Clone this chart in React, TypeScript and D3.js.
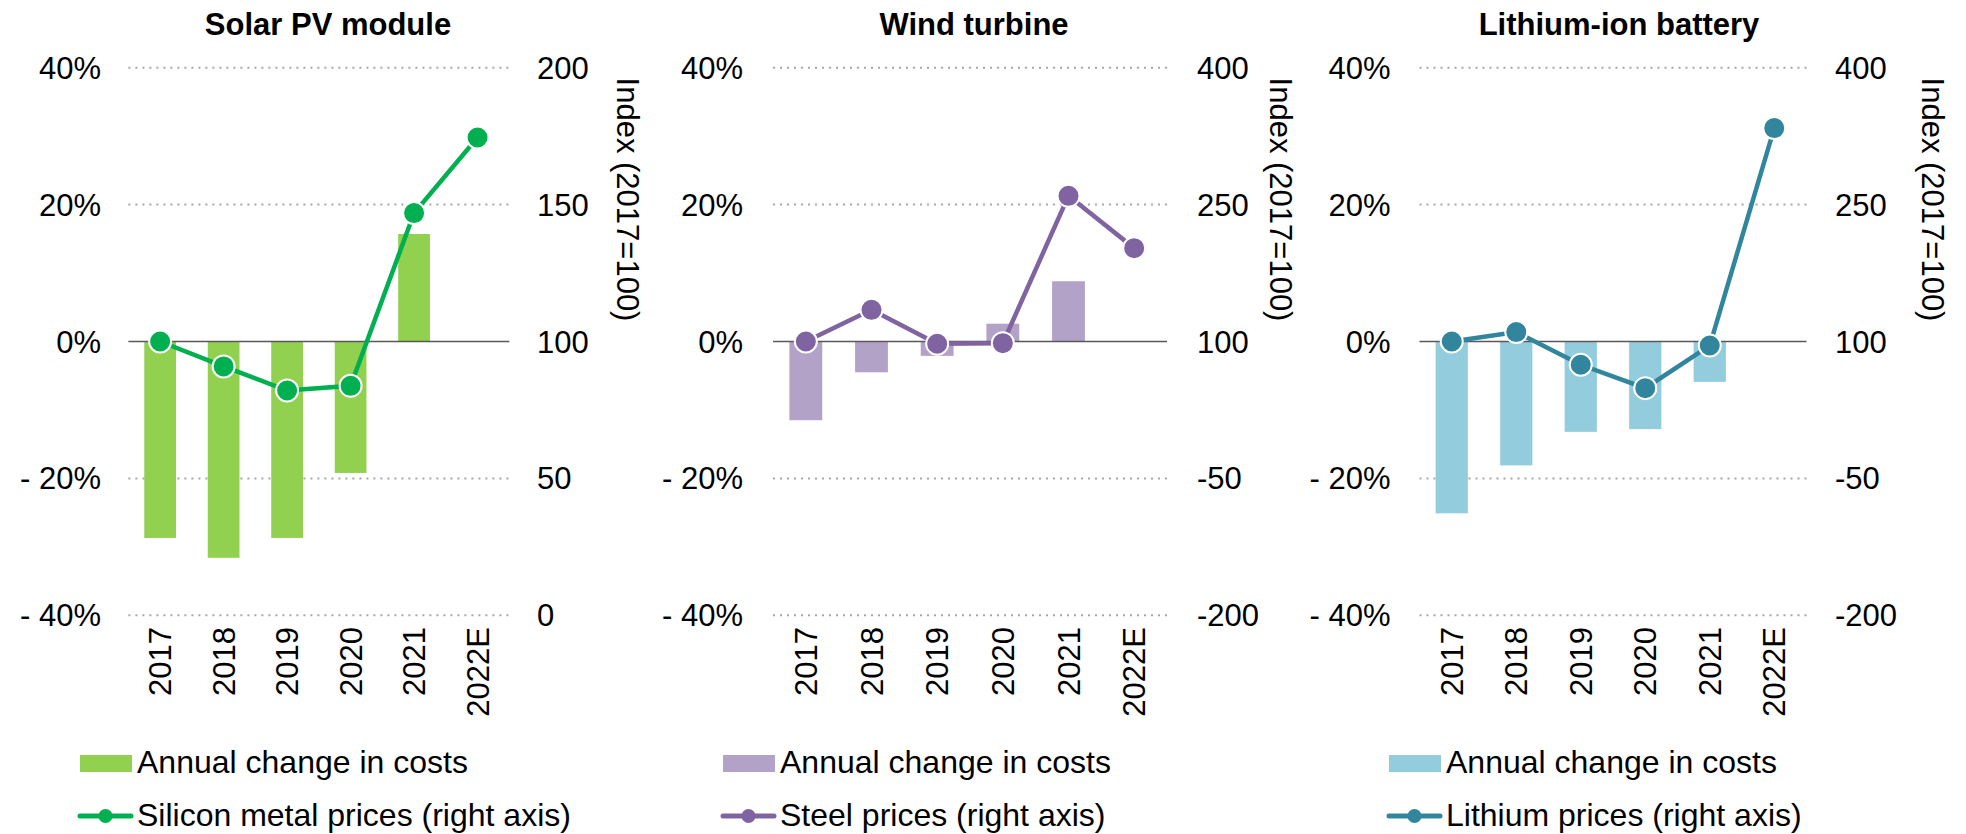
import * as d3 from 'd3';
import React from 'react';

// categories and values
const years = ['2017', '2018', '2019', '2020', '2021', '2022E'];

const solarCostChange = [-28.7, -31.6, -28.7, -19.2, 15.7, null];
const siliconPrices = [100, 90.9, 82.1, 83.8, 146.9, 174.5];

const windCostChange = [-11.5, -4.5, -2.1, 2.6, 8.8, null];
const steelPrices = [100, 134.7, 97.5, 98.2, 259.6, 202.3];

const batteryCostChange = [-25.1, -18.1, -13.2, -12.8, -5.9, null];
const lithiumPrices = [100, 110.3, 74.5, 48.9, 95.6, 333.8];

const leftTicks = [-40, -20, 0, 20, 40];
const solarRightTicks = [0, 50, 100, 150, 200];
const windRightTicks = [-200, -50, 100, 250, 400];
const batteryRightTicks = [-200, -50, 100, 250, 400];

const FONT = '"Liberation Sans", Arial, Helvetica, sans-serif';
const FS = 31;
const LEGEND_FS = 32;
const TOP = 67.7;
const BOTTOM = 615.3;

const panels = [
  {
    title: 'Solar PV module', bars: solarCostChange, line: siliconPrices, rightTicks: solarRightTicks,
    barColor: '#92D050', lineColor: '#00B050', lineLabel: 'Silicon metal prices (right axis)',
    x0: 128.4, x1: 509.3, leftLabelX: 101, rightLabelX: 537, axisTitleX: 617, titleX: 328, legendX: 78,
  },
  {
    title: 'Wind turbine', bars: windCostChange, line: steelPrices, rightTicks: windRightTicks,
    barColor: '#B3A2C7', lineColor: '#8064A2', lineLabel: 'Steel prices (right axis)',
    x0: 773, x1: 1167, leftLabelX: 743, rightLabelX: 1197, axisTitleX: 1270, titleX: 974, legendX: 721,
  },
  {
    title: 'Lithium-ion battery', bars: batteryCostChange, line: lithiumPrices, rightTicks: batteryRightTicks,
    barColor: '#93CDDD', lineColor: '#31859C', lineLabel: 'Lithium prices (right axis)',
    x0: 1419.5, x1: 1806.5, leftLabelX: 1390.5, rightLabelX: 1835, axisTitleX: 1922, titleX: 1619, legendX: 1387,
  },
];

const leftFmt = (v: number) => (v < 0 ? `- ${Math.abs(v)}%` : `${v}%`);

function Panel({ p }: { p: (typeof panels)[number] }) {
  const x = d3.scaleBand<string>().domain(years).range([p.x0, p.x1]).paddingInner(0.5).paddingOuter(0.25);
  const yL = d3.scaleLinear().domain([-40, 40]).range([BOTTOM, TOP]);
  const yR = d3.scaleLinear().domain(d3.extent(p.rightTicks) as [number, number]).range([BOTTOM, TOP]);
  const cx = (i: number) => (x(years[i]) as number) + x.bandwidth() / 2;

  const path = d3.line<number>().x((_, i) => cx(i)).y(d => yR(d))(p.line) || '';

  return (
    <g>
      <text x={p.titleX} y={35} textAnchor="middle" fontWeight="bold" fontSize={FS}>{p.title}</text>

      {/* gridlines */}
      {leftTicks.filter(t => t !== 0).map(t => (
        <line key={t} x1={p.x0} x2={p.x1} y1={yL(t)} y2={yL(t)}
          stroke="#A6A6A6" strokeWidth={2} strokeDasharray="2 5" />
      ))}

      {/* left ticks */}
      {leftTicks.map(t => (
        <text key={t} x={p.leftLabelX} y={yL(t) + 11} textAnchor="end" fontSize={FS}>{leftFmt(t)}</text>
      ))}
      {/* right ticks */}
      {p.rightTicks.map(t => (
        <text key={t} x={p.rightLabelX} y={yR(t) + 11} fontSize={FS}>{t}</text>
      ))}
      <text transform={`translate(${p.axisTitleX},${(TOP + BOTTOM) / 2 - 142}) rotate(90)`}
        textAnchor="middle" fontSize={FS}>Index (2017=100)</text>

      {/* bars */}
      {p.bars.map((v, i) => v == null ? null : (
        <rect key={i} x={x(years[i])} width={x.bandwidth()}
          y={yL(Math.max(0, v))} height={Math.abs(yL(v) - yL(0))} fill={p.barColor} />
      ))}

      <line x1={p.x0} x2={p.x1} y1={yL(0)} y2={yL(0)} stroke="#595959" strokeWidth={1.5} />

      {/* line series */}
      <path d={path} fill="none" stroke={p.lineColor} strokeWidth={4.5} />
      {p.line.map((v, i) => (
        <circle key={i} cx={cx(i)} cy={yR(v)} r={11} fill={p.lineColor} stroke="#fff" strokeWidth={2} />
      ))}

      {/* x labels */}
      {years.map((yr, i) => (
        <text key={yr} transform={`translate(${cx(i) + 11},627) rotate(-90)`}
          textAnchor="end" fontSize={FS}>{yr}</text>
      ))}

      {/* legend */}
      <rect x={p.legendX + 2} y={755} width={52} height={17} fill={p.barColor} />
      <text x={p.legendX + 59} y={773} fontSize={LEGEND_FS}>Annual change in costs</text>
      <line x1={p.legendX + 2} x2={p.legendX + 53} y1={816} y2={816}
        stroke={p.lineColor} strokeWidth={5} strokeLinecap="round" />
      <circle cx={p.legendX + 27.5} cy={816} r={7} fill={p.lineColor} />
      <text x={p.legendX + 59} y={826} fontSize={LEGEND_FS}>{p.lineLabel}</text>
    </g>
  );
}

export default function App() {
  return (
    <svg width={1966} height={834} style={{ position: 'absolute', left: 0, top: 0, background: '#fff' }}
      fontFamily={FONT} fill="#000">
      {panels.map(p => <Panel key={p.title} p={p} />)}
    </svg>
  );
}
